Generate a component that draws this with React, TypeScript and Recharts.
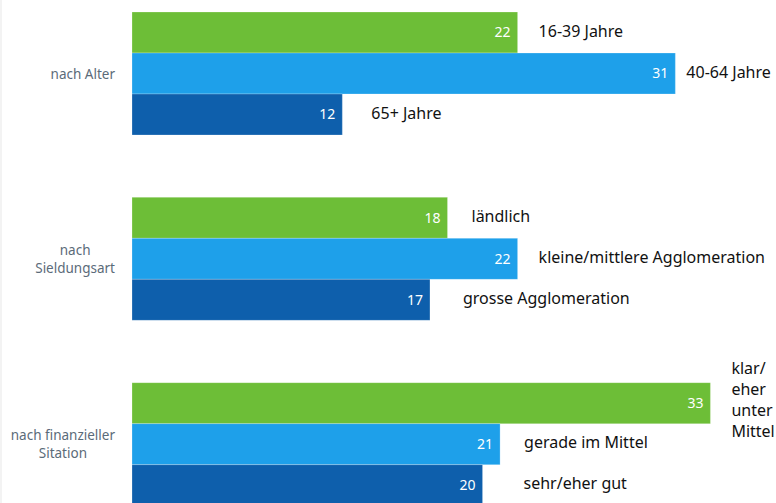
import { Bar, BarChart, LabelList, XAxis, YAxis } from "recharts"

const groups = ["nach Alter", "nach\nSieldungsart", "nach finanzieller\nSitation"]

const youngValues = [22, 18, 33]
const middleValues = [31, 22, 21]
const oldValues = [12, 17, 20]

const youngNames = ["16-39 Jahre", "ländlich", "klar/ eher unter Mittel"]
const middleNames = ["40-64 Jahre", "kleine/mittlere Agglomeration", "gerade im Mittel"]
const oldNames = ["65+ Jahre", "grosse Agglomeration", "sehr/eher gut"]

// little nudges so the outside names sit where the original put them
const youngGaps = [21, 24, 21]
const middleGaps = [11, 21, 24]
const oldGaps = [29, 33, 41]

const FONT = "'Noto Sans', sans-serif"
const CHART_W = 776

let ctx: CanvasRenderingContext2D | null = null
function textWidth(s: string, size: number) {
  if (!ctx) ctx = document.createElement("canvas").getContext("2d")
  if (!ctx) return s.length * size * 0.55
  ctx.font = `${size}px 'Noto Sans'`
  return ctx.measureText(s).width
}

function wrapWords(s: string, size: number, maxW: number) {
  const words = s.split(" ")
  const lines: string[] = []
  let cur = ""
  words.forEach((w) => {
    const next = cur ? cur + " " + w : w
    if (cur && textWidth(next, size) > maxW) {
      lines.push(cur)
      cur = w
    } else cur = next
  })
  if (cur) lines.push(cur)
  return lines
}

const data = groups.map((g, i) => ({
  group: g,
  young: youngValues[i],
  middle: middleValues[i],
  old: oldValues[i],
}))

function GroupTick({ x, y, payload }: any) {
  const lines = String(payload.value).split("\n")
  const size = 13.5
  const w = Math.max(...lines.map((l) => textWidth(l, size)))
  const cx = x - 9 - w / 2
  const lh = 18
  const startY = y - ((lines.length - 1) * lh) / 2
  return (
    <g>
      {lines.map((l, i) => (
        <text
          key={i}
          x={cx}
          y={startY + i * lh}
          textAnchor="middle"
          dominantBaseline="central"
          fill="#5b6b79"
          fontSize={size}
          fontFamily={FONT}
        >
          {l}
        </text>
      ))}
    </g>
  )
}

function makeNameLabel(names: string[], gaps: number[]) {
  return (props: any) => {
    const { x, y, width, height, index } = props
    const size = 16
    const left = x + width + gaps[index]
    const lines = wrapWords(names[index], size, CHART_W - left - 1)
    const lh = 21
    const cy = y + height / 2 + (lines.length === 1 ? -2 : -4)
    const startY = cy - ((lines.length - 1) * lh) / 2
    return (
      <g>
        {lines.map((l, i) => (
          <text key={i} x={left} y={startY + i * lh} dominantBaseline="central" fill="#111" fontSize={size} fontFamily={FONT}>
            {l}
          </text>
        ))}
      </g>
    )
  }
}

const valueLabelStyle = { fill: "#ffffff", fontSize: 14, fontFamily: FONT }

export default function App() {
  return (
    <div style={{ position: "absolute", left: 0, top: -39, width: CHART_W, height: 600 }}>
      <div style={{ position: "absolute", left: 0, top: 39, width: 2, height: 503, background: "#f3f3f3" }} />
      <BarChart
        width={CHART_W}
        height={600}
        data={data}
        layout="vertical"
        margin={{ top: 20, right: 13, bottom: 24, left: 0 }}
        barCategoryGap={31}
        barGap={0}
      >
        <XAxis type="number" domain={[0, 36]} hide />
        <YAxis type="category" dataKey="group" width={132} tickLine={false} axisLine={false} tick={<GroupTick />} interval={0} />
        <Bar dataKey="young" fill="#6dbe37" stroke="#ffffff" strokeOpacity={0.4} strokeWidth={0.6} isAnimationActive={false}>
          <LabelList dataKey="young" position="insideRight" offset={7} style={valueLabelStyle} />
          <LabelList dataKey="young" content={makeNameLabel(youngNames, youngGaps)} />
        </Bar>
        <Bar dataKey="middle" fill="#1ea0ea" stroke="#ffffff" strokeOpacity={0.4} strokeWidth={0.6} isAnimationActive={false}>
          <LabelList dataKey="middle" position="insideRight" offset={7} style={valueLabelStyle} />
          <LabelList dataKey="middle" content={makeNameLabel(middleNames, middleGaps)} />
        </Bar>
        <Bar dataKey="old" fill="#0e5fac" stroke="#ffffff" strokeOpacity={0.4} strokeWidth={0.6} isAnimationActive={false}>
          <LabelList dataKey="old" position="insideRight" offset={7} style={valueLabelStyle} />
          <LabelList dataKey="old" content={makeNameLabel(oldNames, oldGaps)} />
        </Bar>
      </BarChart>
    </div>
  )
}
